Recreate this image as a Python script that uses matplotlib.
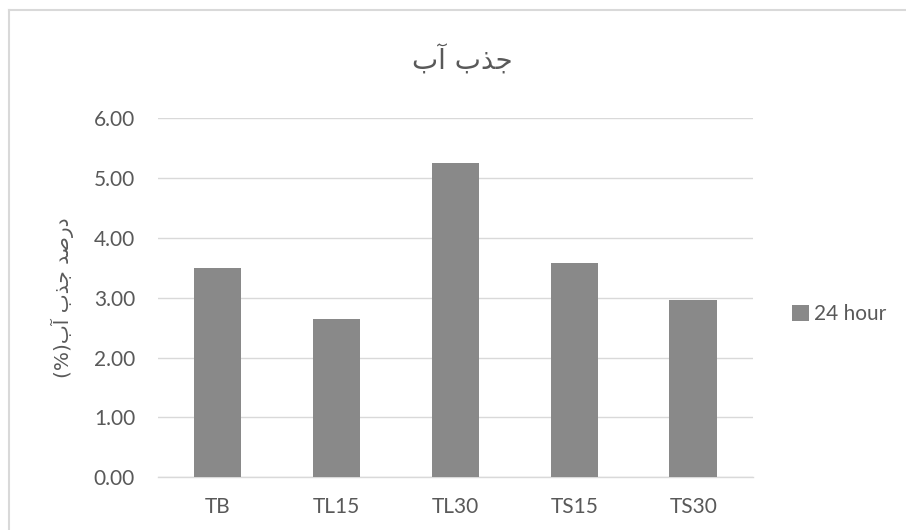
import matplotlib
matplotlib.use("Agg")
import matplotlib.pyplot as plt
from matplotlib.lines import Line2D

# data
categories = ["TB", "TL15", "TL30", "TS15", "TS30"]
values = [3.49, 2.64, 5.26, 3.58, 2.96]
series_name = "24 hour"
y_ticks = [0, 1, 2, 3, 4, 5, 6]

# Persian text, written in visual order with Arabic presentation forms
# title:  "جذب آب"
# ylabel: "درصد جذب آب(%)"
title_text = "\uFE8F\uFE81 \uFE8F\uFEAC\uFE9F"
ylabel_text = "(%)\uFE8F\uFE81 \uFE8F\uFEAC\uFE9F \uFEAA\uFEBB\uFEAD\uFEA9"

W, H = 906, 530
text_color = "#595959"
grid_color = "#D9D9D9"
bar_color = "#898989"

plt.rcParams["font.family"] = ["Lato", "DejaVu Sans"]

fig = plt.figure(figsize=(W / 100, H / 100), dpi=100)
ax = fig.add_axes([158 / W, (H - 477.3) / H, (752.7 - 158) / W, (477.3 - 118.3) / H])

x = range(len(categories))
ax.bar(x, values, width=0.4, color=bar_color, zorder=3, label=series_name)

ax.set_xlim(-0.5, len(categories) - 0.5)
ax.set_ylim(0, 6)
ax.set_yticks(y_ticks)
ax.set_yticklabels([f"{v:.2f}" for v in y_ticks])
ax.set_xticks(list(x))
ax.set_xticklabels(categories)

ax.grid(axis="y", color=grid_color, linewidth=1.0, zorder=0)
for side in ["top", "right", "left"]:
    ax.spines[side].set_visible(False)
ax.spines["bottom"].set_color(grid_color)
ax.spines["bottom"].set_linewidth(1.0)
ax.tick_params(axis="y", length=0, pad=16.5, labelsize=15, labelcolor=text_color)
ax.tick_params(axis="x", length=0, pad=14.5, labelsize=15, labelcolor=text_color)

# y label (Persian)
fig.text(62 / W, (H - 297.5) / H, ylabel_text, rotation=90, ha="center", va="center",
         fontsize=14.5, color=text_color, family=["DejaVu Sans"])

# title (Persian)
fig.text(462 / W, (H - 60) / H, title_text, ha="center", va="center",
         fontsize=20, color=text_color, family=["DejaVu Sans"])

# legend
fig.legend(loc="center left", bbox_to_anchor=(792 / W, (H - 314) / H),
           frameon=False, fontsize=15, labelcolor=text_color,
           handlelength=0.8, handleheight=0.8, handletextpad=0.25,
           borderpad=0, borderaxespad=0)

# chart area border (left and top edges visible)
fig.add_artist(Line2D([8.5 / W, 8.5 / W], [0, (H - 9.5) / H], transform=fig.transFigure,
                      color=grid_color, linewidth=1.5))
fig.add_artist(Line2D([8.5 / W, 1], [(H - 9.5) / H, (H - 9.5) / H], transform=fig.transFigure,
                      color=grid_color, linewidth=1.5))

fig.savefig("out.png", dpi=100, facecolor="white")
